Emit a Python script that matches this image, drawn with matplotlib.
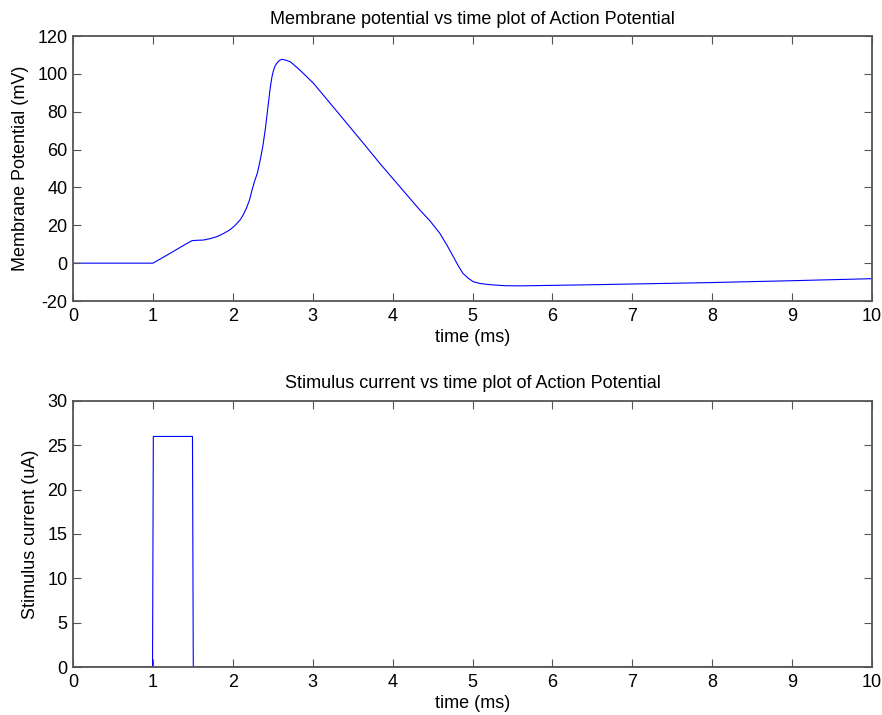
import numpy as np
import matplotlib
matplotlib.use('Agg')
import matplotlib.pyplot as plt

plt.rcParams['font.family'] = ['Liberation Sans', 'DejaVu Sans']
plt.rcParams['axes.unicode_minus'] = False

# membrane potential (mV)
t_v = [0, 1.0, 1.15, 1.30, 1.42, 1.49, 1.56, 1.63, 1.72, 1.80, 1.88, 1.96, 2.03, 2.09,
       2.13, 2.17, 2.21, 2.24, 2.27, 2.31, 2.35, 2.38, 2.41, 2.44, 2.47, 2.49, 2.51,
       2.53, 2.55, 2.58, 2.61, 2.66, 2.72, 2.84, 3.01, 3.34, 3.67, 3.84, 4.09, 4.34,
       4.47, 4.59, 4.68, 4.76, 4.82, 4.88, 4.95, 5.01, 5.09, 5.18, 5.26, 5.4, 5.59,
       6.5, 7.93, 8.97, 10.0]
v = [0, 0, 3.6, 7.3, 10.3, 11.9, 12.1, 12.2, 13.0, 14.0, 15.6, 17.5, 20.0, 22.8,
     25.5, 29.0, 33.5, 38.6, 43.0, 48.0, 56.0, 63.0, 72.0, 82.7, 93.2, 98.5, 102.0,
     104.3, 105.6, 107.0, 107.7, 107.3, 106.4, 102.0, 95.0, 78.3, 61.5, 52.7, 40.4, 28.1,
     22.2, 15.8, 9.5, 3.4, -1.3, -5.4, -8.1, -9.8, -10.7, -11.2, -11.5, -11.9, -12.0,
     -11.4, -10.3, -9.3, -8.2]

# stimulus current (uA)
t_i = [0, 0.995, 1.0, 1.005, 1.495, 1.5, 1.505, 10]
cur = [0, 0, 13, 26, 26, 13, 0, 0]

fig = plt.figure(figsize=(8.82, 7.15), dpi=100)
ax1 = fig.add_axes([0.0828, 0.579, 0.9059, 0.3706])
ax2 = fig.add_axes([0.0828, 0.0671, 0.9059, 0.3721])

ax1.plot(t_v, v, color='#0000ff', lw=0.8, zorder=1)
ax1.set_xlim(0, 10)
ax1.set_ylim(-20, 120)
ax1.set_xticks(range(0, 11))
ax1.set_yticks(range(-20, 121, 20))
ax1.set_xlabel('time (ms)', fontsize=13, labelpad=3)
ax1.set_ylabel('Membrane Potential (mV)', fontsize=13, labelpad=6)
ax1.set_title('Membrane potential vs time plot of Action Potential', fontsize=13, pad=9)

ax2.plot(t_i, cur, color='#0000ff', lw=0.8, zorder=1)
ax2.set_xlim(0, 10)
ax2.set_ylim(0, 30)
ax2.set_xticks(range(0, 11))
ax2.set_yticks(range(0, 31, 5))
ax2.set_xlabel('time (ms)', fontsize=13, labelpad=3)
ax2.set_ylabel('Stimulus current (uA)', fontsize=13, labelpad=6)
ax2.set_title('Stimulus current vs time plot of Action Potential', fontsize=13, pad=9)

for ax in (ax1, ax2):
    ax.tick_params(direction='in', top=True, right=True, length=6, width=0.8,
                   color='#555555', labelsize=13)
    ax.tick_params(axis='x', pad=5)
    ax.tick_params(axis='y', pad=4)
    for s in ax.spines.values():
        s.set_color('#555555')
        s.set_linewidth(1.3)
        s.set_zorder(3)

fig.savefig('out.png', dpi=100, facecolor='white')
